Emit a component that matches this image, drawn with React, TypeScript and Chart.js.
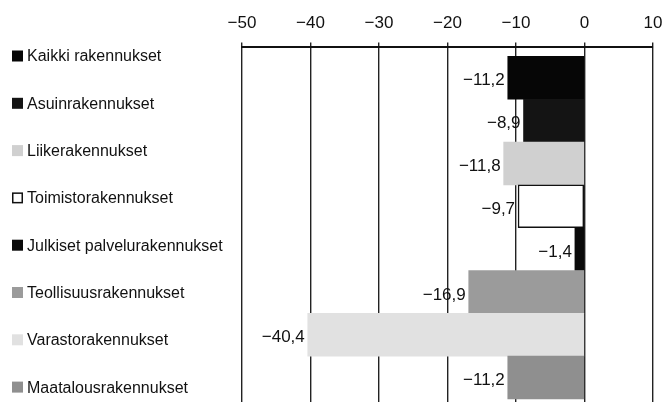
import React, { useEffect, useRef } from "react";
import { Chart, registerables } from "chart.js";

Chart.register(...registerables);

const categories = [
  "Kaikki rakennukset",
  "Asuinrakennukset",
  "Liikerakennukset",
  "Toimistorakennukset",
  "Julkiset palvelurakennukset",
  "Teollisuusrakennukset",
  "Varastorakennukset",
  "Maatalousrakennukset",
];
const values = [-11.2, -8.9, -11.8, -9.7, -1.4, -16.9, -40.4, -11.2];
const fillColors = ["#060606", "#141414", "#d0d0d0", "#ffffff", "#0a0a0a", "#9b9b9b", "#e1e1e1", "#8f8f8f"];
const borderColors = ["#060606", "#141414", "#d0d0d0", "#111111", "#0a0a0a", "#9b9b9b", "#e1e1e1", "#8f8f8f"];
const borderWidths = [0, 0, 0, 1.5, 0, 0, 0, 0];
const xMin = -50;
const xMax = 10;
const xStep = 10;

const FONT = "'Liberation Sans', Arial, sans-serif";

const fmt = (v: number) => {
  const s = Math.abs(v).toString().replace(".", ",");
  return v < 0 ? "\u2212" + s : s;
};

const valueLabels = {
  id: "valueLabels",
  afterDatasetsDraw(chart: any) {
    const ctx = chart.ctx;
    const meta = chart.getDatasetMeta(0);
    ctx.save();
    ctx.font = `17px ${FONT}`;
    ctx.fillStyle = "#111";
    ctx.textAlign = "right";
    ctx.textBaseline = "middle";
    meta.data.forEach((el: any, i: number) => {
      ctx.fillText(fmt(values[i]), el.x - 3, el.y + 3);
    });
    ctx.restore();
  },
};

const sideLegend = {
  id: "sideLegend",
  afterDraw(chart: any) {
    const ctx = chart.ctx;
    ctx.save();
    ctx.font = `16px ${FONT}`;
    ctx.textBaseline = "middle";
    ctx.textAlign = "left";
    const x0 = 12;
    const y0 = 56;
    const step = 47.3;
    categories.forEach((c, i) => {
      const cy = y0 + i * step;
      ctx.fillStyle = fillColors[i];
      ctx.fillRect(x0, cy - 5.5, 11, 11);
      if (borderWidths[i] > 0) {
        ctx.strokeStyle = "#111";
        ctx.lineWidth = 1.5;
        ctx.strokeRect(x0 + 0.75, cy - 4.75, 9.5, 9.5);
      }
      ctx.fillStyle = "#111";
      ctx.fillText(c, x0 + 15, cy + 1);
    });
    ctx.restore();
  },
};

export default function App() {
  const ref = useRef<HTMLCanvasElement>(null);
  useEffect(() => {
    if (!ref.current) return;
    const chart = new Chart(ref.current, {
      type: "bar",
      data: {
        datasets: [
          {
            data: values.map((v, i) => ({ x: v, y: i })),
            backgroundColor: fillColors,
            borderColor: borderColors,
            borderWidth: borderWidths,
            borderSkipped: false,
            barPercentage: 1,
            categoryPercentage: 1,
          } as any,
        ],
      },
      options: {
        indexAxis: "y",
        animation: false,
        responsive: false,
        layout: { padding: { left: 242, right: 12, top: 4, bottom: 0 } },
        plugins: { legend: { display: false }, tooltip: { enabled: false } },
        scales: {
          x: {
            type: "linear",
            position: "top",
            min: xMin,
            max: xMax,
            afterFit: (scale: any) => {
              scale.paddingLeft = 0;
              scale.paddingRight = 0;
            },
            ticks: {
              stepSize: xStep,
              color: "#111",
              font: { family: FONT, size: 17 },
              padding: 9,
              callback: (v: any) => fmt(Number(v)),
            },
            grid: { color: "#222", lineWidth: 1.4, tickLength: 5, tickColor: "#222" },
            border: { display: true, color: "#111", width: 2 },
          },
          y: {
            type: "linear",
            reverse: true,
            display: false,
            offset: false,
            grid: { offset: false },
            min: -0.71,
            max: 7.57,
            afterBuildTicks: (scale: any) => {
              scale.ticks = scale.ticks.filter((t: any) => Number.isInteger(t.value));
            },
            ticks: { stepSize: 1 },
          },
        },
      } as any,
      plugins: [valueLabels, sideLegend],
    });
    return () => chart.destroy();
  }, []);
  return (
    <div style={{ position: "fixed", left: 0, top: 0, width: 665, height: 402, background: "#fff" }}>
      <canvas ref={ref} width={665} height={402} />
    </div>
  );
}
